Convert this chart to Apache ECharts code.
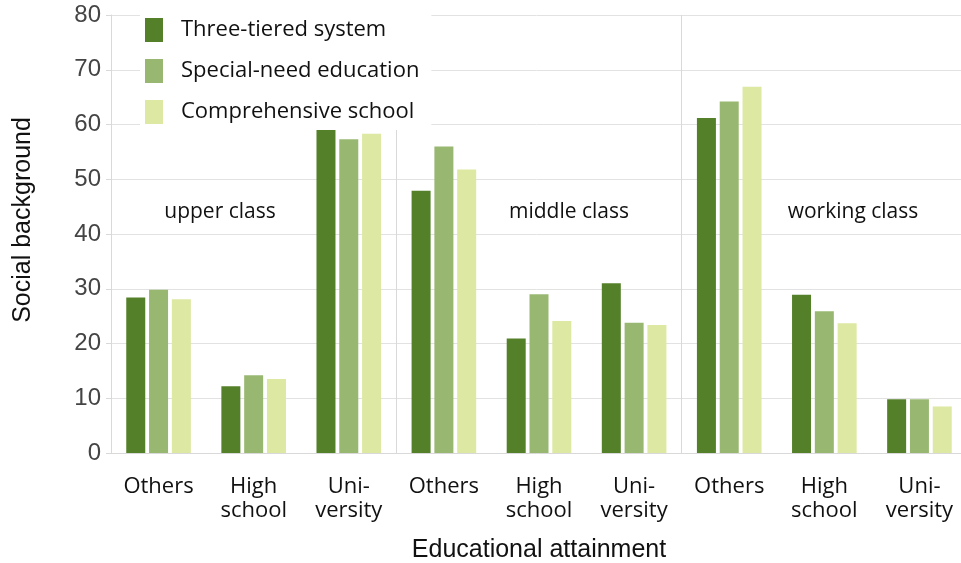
<!DOCTYPE html>
<html>
<head>
<meta charset="utf-8">
<script src="https://cdn.jsdelivr.net/npm/echarts@6/dist/echarts.min.js"></script>
<style>html,body{margin:0;padding:0;background:#fff;overflow:hidden}#c{width:961px;height:563px}</style>
</head>
<body>
<div id="c"></div>
<script>
const categories = ['Others', 'High\nschool', 'Uni-\nversity', 'Others', 'High\nschool', 'Uni-\nversity', 'Others', 'High\nschool', 'Uni-\nversity'];
const classLabels = ['upper class', 'middle class', 'working class'];
const seriesNames = ['Three-tiered system', 'Special-need education', 'Comprehensive school'];
const threeTiered = [28.4, 12.2, 59.7, 47.9, 20.9, 31.0, 61.2, 28.9, 9.8];
const specialNeed = [29.8, 14.2, 57.3, 56.0, 29.0, 23.8, 64.2, 25.9, 9.8];
const comprehensive = [28.1, 13.5, 58.3, 51.8, 24.1, 23.4, 66.9, 23.7, 8.5];
const yTicks = { min: 0, max: 80, interval: 10 };

const colors = ['#55802a', '#98b872', '#dde8a2'];
const chart = echarts.init(document.getElementById('c'));
const values = [threeTiered, specialNeed, comprehensive];
const labelFont = '"Open Sans", sans-serif';

chart.setOption({
  animation: false,
  backgroundColor: '#fff',
  grid: { left: 111, top: 15, width: 856, height: 438, outerBoundsMode: 'none', containLabel: false },
  legend: {
    orient: 'vertical',
    left: 140, top: 10,
    backgroundColor: '#fff',
    padding: [8, 12, 6, 5],
    icon: 'rect',
    itemWidth: 18, itemHeight: 24, itemGap: 17,
    textStyle: { fontFamily: labelFont, fontSize: 22, color: '#111', padding: [0, 0, 0, 13] },
    data: seriesNames
  },
  xAxis: {
    type: 'category',
    data: categories,
    name: 'Educational attainment',
    nameLocation: 'middle',
    nameGap: 85,
    nameTextStyle: { fontFamily: '"Liberation Sans", Arial, sans-serif', fontSize: 25, color: '#111' },
    axisLine: { show: true, lineStyle: { color: '#d9d9d9' } },
    axisTick: { show: false },
    axisLabel: { fontFamily: labelFont, fontSize: 22, color: '#111', lineHeight: 24, margin: 22, interval: 0 },
    splitLine: { show: true, interval: function (i) { return i === 3 || i === 6; }, lineStyle: { color: '#d9d9d9' } }
  },
  yAxis: {
    type: 'value',
    min: yTicks.min, max: yTicks.max, interval: yTicks.interval,
    name: 'Social background',
    nameLocation: 'middle',
    nameGap: 75,
    nameTextStyle: { fontFamily: '"Liberation Sans", Arial, sans-serif', fontSize: 25, color: '#111', padding: [0, 0, 0, 28] },
    axisLine: { show: true, lineStyle: { color: '#d9d9d9' } },
    axisTick: { show: true, length: 5, lineStyle: { color: '#d9d9d9' } },
    axisLabel: { fontFamily: '"Liberation Sans Narrow", "Liberation Sans", sans-serif', fontSize: 24, color: '#444', margin: 10 },
    splitLine: { lineStyle: { color: '#e2e2e2' } }
  },
  graphic: classLabels.map((t, i) => ({
    type: 'text',
    x: [220, 569, 853][i],
    y: 212,
    style: { text: t, fontFamily: labelFont, fontSize: 21, fill: '#111', align: 'center', verticalAlign: 'middle' }
  })),
  series: seriesNames.map((n, k) => ({
    name: n,
    type: 'bar',
    data: values[k],
    barWidth: 19,
    barGap: '20%',
    itemStyle: { color: colors[k] }
  }))
});
</script>
</body>
</html>
